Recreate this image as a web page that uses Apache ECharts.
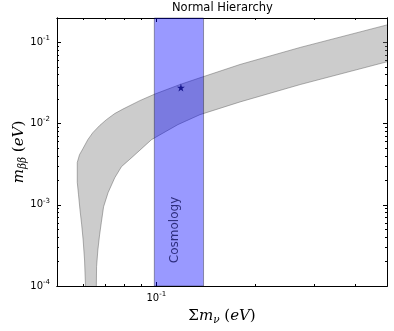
<!DOCTYPE html>
<html>
<head>
<meta charset="utf-8">
<script src="https://cdn.jsdelivr.net/npm/echarts@6/dist/echarts.min.js"></script>
<style>
  html, body { margin: 0; padding: 0; background: #fff; }
  #chart { width: 394px; height: 331px; }
</style>
</head>
<body>
<div id="chart"></div>
<script>
// upper edge of the allowed band, left to right
const bandTopX = [0.0576, 0.0585, 0.0599, 0.0620, 0.0642, 0.0673, 0.0706, 0.0748, 0.0792, 0.0891, 0.0989, 0.1179, 0.1356, 0.1793, 0.2729, 0.5];
const bandTopY = [3.33e-3, 4.14e-3, 4.91e-3, 6.35e-3, 7.74e-3, 9.45e-3, 1.12e-2, 1.33e-2, 1.51e-2, 1.92e-2, 2.31e-2, 3.03e-2, 3.67e-2, 5.35e-2, 8.68e-2, 0.1644];
// lower edge, left to right, going down into the dip and back up
const bandBottomX = [0.0576, 0.0581, 0.0587, 0.0594, 0.0600, 0.0606, 0.0610, 0.0658, 0.0659, 0.0665, 0.0673, 0.0681, 0.0692, 0.0714, 0.0748, 0.0784, 0.0850, 0.0967, 0.1162, 0.1356, 0.1793, 0.2729, 0.5];
const bandBottomY = [1.885e-3, 1.33e-3, 8.68e-4, 5.66e-4, 3.70e-4, 2.09e-4, 1e-4, 1e-4, 1.73e-4, 2.78e-4, 4.26e-4, 6.0e-4, 9.45e-4, 1.41e-3, 2.15e-3, 2.95e-3, 3.95e-3, 6.35e-3, 9.72e-3, 1.29e-2, 1.85e-2, 3.03e-2, 5.78e-2];
const dipStart = 7; // first point of the right-hand branch of the dip

const cosmologyBand = [0.0986, 0.139];
const bestFit = [0.1187, 0.0278];

const xRange = [0.05, 0.5];
const yRange = [1e-4, 0.2];
const xMajorTicks = [0.1];
const xMinorTicks = [0.06, 0.07, 0.08, 0.09, 0.2, 0.3, 0.4];
const yMajorTicks = [1e-4, 1e-3, 1e-2, 1e-1];
const yMinorTicks = [2e-4, 3e-4, 4e-4, 5e-4, 6e-4, 7e-4, 8e-4, 9e-4,
  2e-3, 3e-3, 4e-3, 5e-3, 6e-3, 7e-3, 8e-3, 9e-3,
  2e-2, 3e-2, 4e-2, 5e-2, 6e-2, 7e-2, 8e-2, 9e-2];

const powRich = {
  b: { fontSize: 10, fontFamily: 'DejaVu Sans', color: '#000', lineHeight: 15 },
  s: { fontSize: 7, fontFamily: 'DejaVu Sans', color: '#000', lineHeight: 8, verticalAlign: 'top' },
};

const mathRich = {
  n: { fontSize: 15, fontFamily: 'DejaVu Serif', color: '#000', lineHeight: 20 },
  i: { fontSize: 15, fontFamily: 'DejaVu Serif', fontStyle: 'italic', color: '#000', lineHeight: 20 },
  sub: { fontSize: 10.5, fontFamily: 'DejaVu Serif', fontStyle: 'italic', color: '#000', lineHeight: 12, verticalAlign: 'bottom' },
};

function powLabel(v) {
  return '{b|10}{s|' + Math.round(Math.log10(v)) + '}';
}

function makeAxis(dim, position, ticks, len, labels) {
  const range = dim === 'x' ? xRange : yRange;
  return {
    type: 'log',
    logBase: 10,
    position: position,
    min: range[0],
    max: range[1],
    axisLine: { show: true, onZero: false, lineStyle: { color: '#000', width: 1 } },
    axisTick: { show: true, inside: true, length: len, customValues: ticks, lineStyle: { color: '#000', width: 1 } },
    axisLabel: labels
      ? { show: true, customValues: labels, margin: dim === 'x' ? 5 : 7, formatter: powLabel, rich: powRich }
      : { show: false },
    splitLine: { show: false },
    minorTick: { show: false },
  };
}

const xAxes = [
  makeAxis('x', 'bottom', xMajorTicks, 4, xMajorTicks),
  makeAxis('x', 'bottom', xMinorTicks, 2, null),
  makeAxis('x', 'top', xMajorTicks, 4, null),
  makeAxis('x', 'top', xMinorTicks, 2, null),
];
xAxes[0].name = '{n|Σ}{i|m}{sub|ν}{n| (}{i|eV}{n|)}';
xAxes[0].nameLocation = 'middle';
xAxes[0].nameGap = 20;
xAxes[0].nameMoveOverlap = false;
xAxes[0].nameTextStyle = { rich: mathRich };

const yAxes = [
  makeAxis('y', 'left', yMajorTicks, 4, yMajorTicks),
  makeAxis('y', 'left', yMinorTicks, 2, null),
  makeAxis('y', 'right', yMajorTicks, 4, null),
  makeAxis('y', 'right', yMinorTicks, 2, null),
];
yAxes[0].name = '{i|m}{sub|ββ}{n| (}{i|eV}{n|)}';
yAxes[0].nameLocation = 'middle';
yAxes[0].nameRotate = 90;
yAxes[0].nameGap = 28;
yAxes[0].nameMoveOverlap = false;
yAxes[0].nameTextStyle = { rich: mathRich };

function renderBand(params, api) {
  if (params.dataIndex !== 0) return null;
  const top = bandTopX.map((x, i) => api.coord([x, bandTopY[i]]));
  const bottom = bandBottomX.map((x, i) => api.coord([x, bandBottomY[i]]));
  const outline = top.concat(bottom.slice().reverse());
  const leftEdge = bottom.slice(0, dipStart).reverse().concat(top);
  const rightEdge = bottom.slice(dipStart);
  const edgeStyle = { stroke: 'rgba(100, 100, 100, 0.5)', lineWidth: 1, fill: 'none' };
  return {
    type: 'group',
    children: [
      { type: 'polygon', shape: { points: outline }, style: { fill: 'rgba(128, 128, 128, 0.4)' } },
      { type: 'polyline', shape: { points: leftEdge }, style: edgeStyle },
      { type: 'polyline', shape: { points: rightEdge }, style: edgeStyle },
    ],
  };
}

function renderSpan(params, api) {
  if (params.dataIndex !== 0) return null;
  const p0 = api.coord([cosmologyBand[0], yRange[0]]);
  const p1 = api.coord([cosmologyBand[1], yRange[1]]);
  return {
    type: 'rect',
    shape: { x: p0[0], y: p1[1], width: p1[0] - p0[0], height: p0[1] - p1[1] },
    style: { fill: 'rgba(0, 0, 255, 0.4)', stroke: 'rgba(0, 0, 0, 0.35)', lineWidth: 1 },
  };
}

const myChart = echarts.init(document.getElementById('chart'));

myChart.setOption({
  animation: false,
  backgroundColor: '#fff',
  title: {
    text: 'Normal Hierarchy',
    left: 172,
    top: 2,
    padding: 0,
    textStyle: { fontFamily: 'DejaVu Sans', fontSize: 11.5, fontWeight: 'normal', color: '#000' },
  },
  grid: { left: 57, top: 18, width: 330, height: 268, outerBoundsMode: 'none' },
  xAxis: xAxes,
  yAxis: yAxes,
  series: [
    {
      type: 'custom',
      z: 2,
      renderItem: renderBand,
      encode: { x: 0, y: 1 },
      data: bandTopX.map((x, i) => [x, bandTopY[i]]),
    },
    {
      type: 'custom',
      z: 3,
      renderItem: renderSpan,
      encode: { x: 0, y: 1 },
      data: [[cosmologyBand[0], yRange[0]], [cosmologyBand[1], yRange[1]]],
    },
    {
      type: 'scatter',
      z: 5,
      symbol: 'path://M50,0 L61.2,34.5 L97.6,34.5 L68.2,55.9 L79.4,90.5 L50,69.1 L20.6,90.5 L31.8,55.9 L2.4,34.5 L38.8,34.5 Z',
      symbolSize: 8,
      itemStyle: { color: '#00007a' },
      data: [bestFit],
    },
    {
      type: 'scatter',
      z: 5,
      symbolSize: 0,
      silent: true,
      label: {
        show: true,
        position: 'inside',
        rotate: 90,
        formatter: 'Cosmology',
        fontFamily: 'DejaVu Sans',
        fontSize: 12,
        color: '#10105a',
      },
      data: [[0.114, 4.9e-4]],
    },
  ],
});
</script>
</body>
</html>
